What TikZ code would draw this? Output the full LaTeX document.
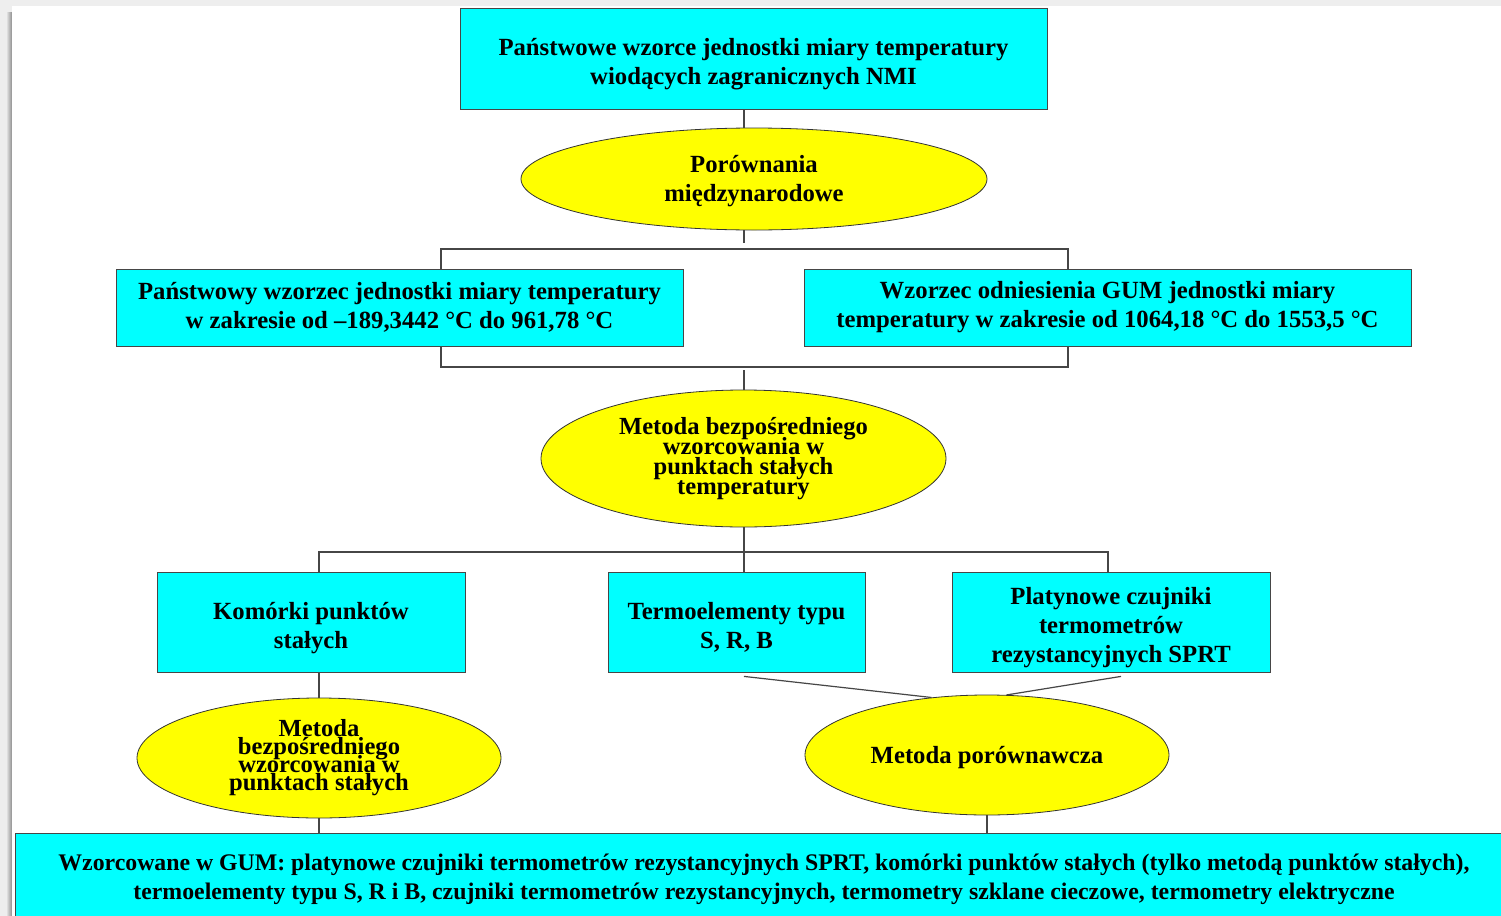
\documentclass[tikz,border=0pt]{standalone}
\usepackage{fontspec}
\setmainfont{Liberation Serif}
\definecolor{boxcyan}{RGB}{0,255,255}
\definecolor{ovalyellow}{RGB}{255,255,0}
\definecolor{pagegray}{RGB}{238,238,238}
\definecolor{linegray}{RGB}{70,70,70}
\usetikzlibrary{shapes.geometric,calc}
\newcommand{\topgap}[1]{\rule{0pt}{#1}}
\newcommand{\tightfont}[1]{\bfseries\fontsize{12.3}{#1}\selectfont\setlength{\lineskiplimit}{-20pt}}

\begin{document}
\begin{tikzpicture}[x=0.5pt, y=-0.5pt,
  every node/.style={font=\bfseries\fontsize{12.35}{14.5}\selectfont, align=center, inner sep=0pt},
  cbox/.style={draw=linegray, fill=boxcyan, rectangle},
  oval/.style={draw=black!80, fill=ovalyellow, ellipse},
  conn/.style={draw=linegray, line width=0.6pt}]
\useasboundingbox (0,0) rectangle (1501,916);
% Page background
\fill[pagegray] (0,0) rectangle (1501,916);
\shade[left color=pagegray, right color=black!45] (6,12) rectangle (12,916);
\fill[white] (12,6) rectangle (1501,916);
% Top level
\node[cbox, minimum width=293.5pt, minimum height=50.5pt] (nmi) at (753.5,58.5) {\topgap{14.5pt}Państwowe wzorce jednostki miary temperatury\\wiodących zagranicznych NMI};
\node[oval, minimum width=233pt, minimum height=51pt] (intl) at (754,179) {\topgap{10.5pt}Porównania\\międzynarodowe};
% National standards
\node[cbox, minimum width=283.5pt, minimum height=38.5pt] (natl) at (399.5,307.5) {Państwowy wzorzec jednostki miary temperatury\\w zakresie od –189,3442 °C do 961,78 °C};
\node[cbox, minimum width=303.5pt, minimum height=38.5pt] (ref) at (1107.5,307.5) {Wzorzec odniesienia GUM jednostki miary\\temperatury w zakresie od 1064,18 °C do 1553,5 °C};
\node[oval, font=\tightfont{10pt}, minimum width=202.5pt, minimum height=68.5pt] (direct) at (743.5,458.5) {Metoda bezpośredniego\\wzorcowania w\\punktach stałych\\temperatury};
% Standards of the next level
\node[cbox, minimum width=154pt, minimum height=50pt] (cells) at (311,622) {\topgap{14.5pt}Komórki punktów\\stałych};
\node[cbox, minimum width=128.5pt, minimum height=50pt] (thermo) at (736.5,622) {\topgap{14pt}Termoelementy typu\\S, R, B};
\node[cbox, minimum width=159pt, minimum height=50pt] (sprt) at (1111,622) {\topgap{14.5pt}Platynowe czujniki\\termometrów\\rezystancyjnych SPRT};
\node[oval, font=\tightfont{9pt}, minimum width=182pt, minimum height=60pt] (fixed) at (319,758) {Metoda\\bezpośredniego\\wzorcowania w\\punktach stałych};
\node[oval, minimum width=182pt, minimum height=60pt] (comp) at (987,755) {\topgap{11.5pt}Metoda porównawcza};
% Bottom
\node[cbox, font=\bfseries\fontsize{11.9}{14.5}\selectfont, minimum width=749pt, minimum height=46pt] (gum) at (764,879) {Wzorcowane w GUM: platynowe czujniki termometrów rezystancyjnych SPRT, komórki punktów stałych (tylko metodą punktów stałych),\\termoelementy typu S, R i B, czujniki termometrów rezystancyjnych, termometry szklane cieczowe, termometry elektryczne};
% Connectors
\coordinate (spine) at (744,0);
\coordinate (b1l) at (441,249); \coordinate (b1r) at (1068,249);
\coordinate (b2l) at (441,367); \coordinate (b2r) at (1068,367);
\coordinate (b3l) at (319,552); \coordinate (b3r) at (1108,552);
\draw[conn] (nmi.south -| spine) -- (intl.north -| spine);
\draw[conn] (intl.south -| spine) -- ($(spine |- b1l)+(0,-6)$);
\draw[conn] (b1l |- natl.north) -- (b1l) -- (b1r) -- (b1r |- ref.north);
\draw[conn] (b2l |- natl.south) -- (b2l) -- (b2r) -- (b2r |- ref.south);
\draw[conn] ($(spine |- b2l)+(0,3)$) -- (direct.north -| spine);
\draw[conn] (direct.south -| spine) -- (thermo.north -| spine);
\draw[conn] (b3l |- cells.north) -- (b3l) -- (b3r) -- (b3r |- sprt.north);
\draw[conn] (cells.south -| fixed) -- (fixed.north);
\draw[conn] (fixed.south) -- (fixed.south |- gum.north);
\draw[conn] ($(thermo.south -| spine)+(0,4)$) -- (comp.134);
\draw[conn] ($(sprt.south)+(10,4)$) -- (comp.72);
\draw[conn] (comp.south) -- (comp.south |- gum.north);
\end{tikzpicture}
\end{document}
